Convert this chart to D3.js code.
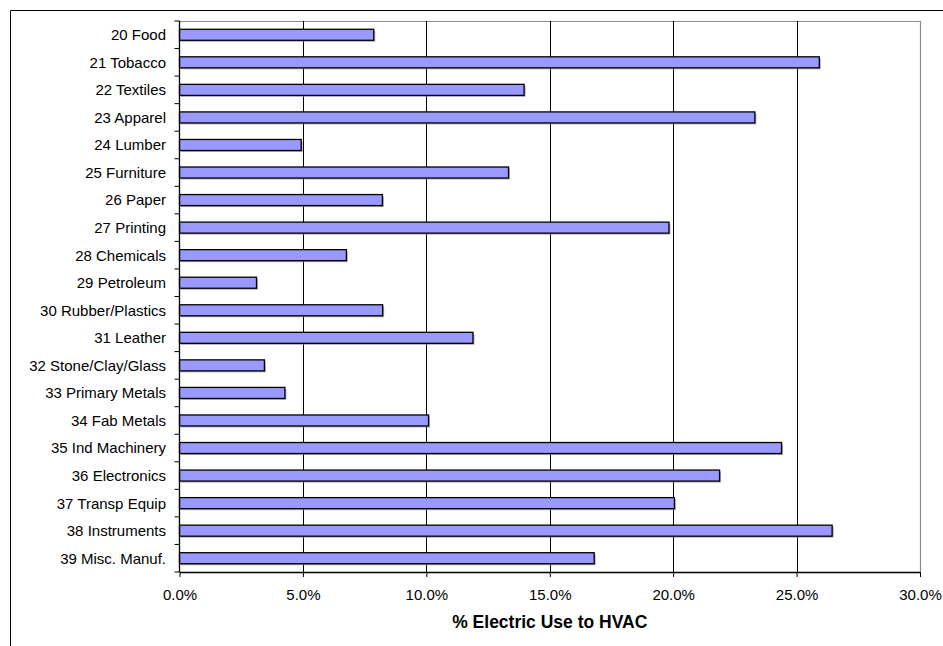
<!DOCTYPE html>
<html>
<head>
<meta charset="utf-8">
<script src="https://cdn.jsdelivr.net/npm/d3@7/dist/d3.min.js"></script>
<style>
  html, body { margin: 0; padding: 0; background: #fff; }
  svg { display: block; font-family: "Liberation Sans", Arial, sans-serif; }
</style>
</head>
<body>
<svg id="chart" width="943" height="646"></svg>
<script>
// Manufacturing sectors (SIC codes) and share of electricity going to HVAC, in percent
const categories = [
  "20 Food", "21 Tobacco", "22 Textiles", "23 Apparel", "24 Lumber",
  "25 Furniture", "26 Paper", "27 Printing", "28 Chemicals", "29 Petroleum",
  "30 Rubber/Plastics", "31 Leather", "32 Stone/Clay/Glass", "33 Primary Metals",
  "34 Fab Metals", "35 Ind Machinery", "36 Electronics", "37 Transp Equip",
  "38 Instruments", "39 Misc. Manuf."
];
const hvacShare = [
  7.87, 25.92, 13.96, 23.31, 4.93,
  13.33, 8.22, 19.83, 6.76, 3.12,
  8.23, 11.89, 3.44, 4.27,
  10.09, 24.39, 21.88, 20.05,
  26.44, 16.80
];
const xTicks = [0, 5, 10, 15, 20, 25, 30];
const xTitle = "% Electric Use to HVAC";

const svg = d3.select("#chart");
const W = 943, H = 646;
const plot = { left: 179.5, right: 920, top: 21, bottom: 572 };

// outer chart frame (runs off the right and bottom edges)
svg.append("path")
  .attr("d", `M10.5,${H + 2} V10.5 H${W + 2}`)
  .attr("fill", "none").attr("stroke", "#000").attr("stroke-width", 1);

const x = d3.scaleLinear().domain([0, 30]).range([plot.left, plot.right]);
const y = d3.scaleBand().domain(categories).range([plot.top, plot.bottom])
  .paddingInner(0.6).paddingOuter(0.3);

// plot-area border (top and right, gray)
svg.append("path")
  .attr("d", `M${plot.left},${plot.top + 0.5} H${plot.right + 0.5} V${plot.bottom}`)
  .attr("fill", "none").attr("stroke", "#8c8c8c").attr("stroke-width", 1.2);

// vertical gridlines
svg.append("g").selectAll("line")
  .data(xTicks.filter(t => t > 0 && t < 30))
  .join("line")
  .attr("x1", d => Math.round(x(d)) + 0.5).attr("x2", d => Math.round(x(d)) + 0.5)
  .attr("y1", plot.top).attr("y2", plot.bottom)
  .attr("stroke", "#000").attr("stroke-width", 1);

// bars with a soft drop shadow
const bars = svg.append("g");
bars.selectAll("rect.shadow")
  .data(hvacShare)
  .join("rect")
  .attr("class", "shadow")
  .attr("x", x(0) + 1.5)
  .attr("y", (d, i) => y(categories[i]) + 1.5)
  .attr("width", d => x(d) - x(0))
  .attr("height", y.bandwidth())
  .attr("fill", "#8a8a8a").attr("opacity", 0.7);
bars.selectAll("rect.bar")
  .data(hvacShare)
  .join("rect")
  .attr("class", "bar")
  .attr("x", x(0))
  .attr("y", (d, i) => y(categories[i]))
  .attr("width", d => x(d) - x(0))
  .attr("height", y.bandwidth())
  .attr("fill", "#9999ff").attr("stroke", "#000").attr("stroke-width", 1.3);

// category axis (left) with ticks on band boundaries
const yAxis = svg.append("g");
const bounds = d3.range(categories.length + 1)
  .map(i => plot.top + i * (plot.bottom - plot.top) / categories.length);
yAxis.append("line")
  .attr("x1", plot.left).attr("x2", plot.left)
  .attr("y1", plot.top).attr("y2", plot.bottom)
  .attr("stroke", "#000").attr("stroke-width", 1.3);
yAxis.selectAll("line.tick")
  .data(bounds)
  .join("line")
  .attr("class", "tick")
  .attr("x1", plot.left - 5).attr("x2", plot.left)
  .attr("y1", d => d).attr("y2", d => d)
  .attr("stroke", "#000").attr("stroke-width", 1);
yAxis.selectAll("text")
  .data(categories)
  .join("text")
  .attr("x", 166)
  .attr("y", d => y(d) + y.bandwidth() / 2)
  .attr("dy", "0.36em")
  .attr("text-anchor", "end")
  .attr("font-size", 15)
  .attr("fill", "#000")
  .text(d => d);

// value axis (bottom)
const xAxis = svg.append("g")
  .attr("transform", `translate(0,${plot.bottom})`)
  .call(d3.axisBottom(x).tickValues(xTicks).tickSize(5).tickSizeOuter(0)
    .tickFormat(d => d.toFixed(1) + "%"));
xAxis.select(".domain").attr("stroke", "#000").attr("stroke-width", 1.3);
xAxis.selectAll(".tick line").attr("stroke", "#000");
xAxis.selectAll(".tick text")
  .attr("font-size", 15).attr("font-family", "Liberation Sans, Arial, sans-serif")
  .attr("fill", "#000").attr("y", 17.5);

svg.append("text")
  .attr("x", (plot.left + plot.right) / 2)
  .attr("y", 628)
  .attr("text-anchor", "middle")
  .attr("font-size", 17.5).attr("font-weight", "bold")
  .attr("fill", "#000")
  .text(xTitle);
</script>
</body>
</html>
